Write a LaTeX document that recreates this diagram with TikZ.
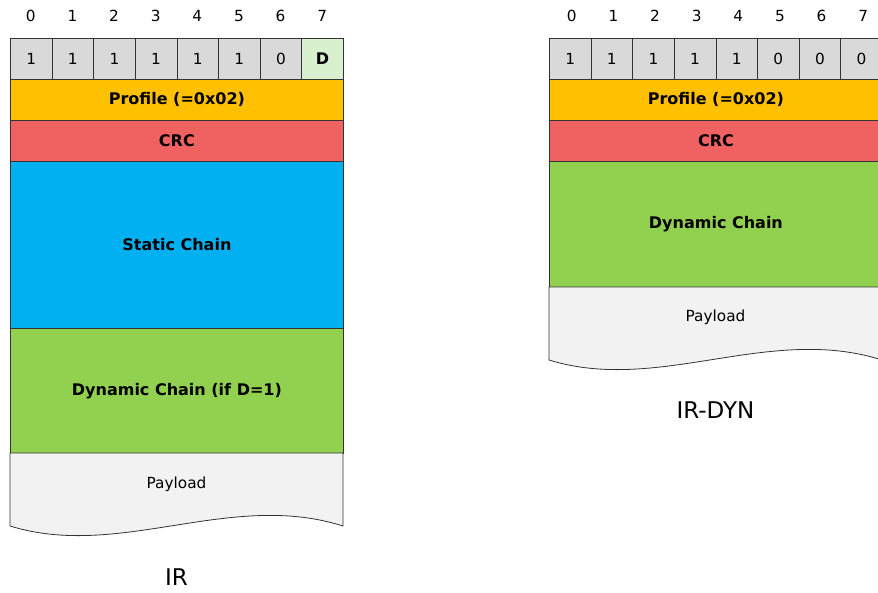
\documentclass[tikz,border=0pt]{standalone}
\usepackage{fontspec}
\setmainfont{DejaVu Sans}
\begin{document}
\begin{tikzpicture}[x=1pt,y=-1pt,
  cellbox/.style={draw=black!80,line width=0.8pt,anchor=north west,minimum width=41.625pt,minimum height=41pt,inner sep=0pt,font=\fontsize{15.3}{17}\selectfont},
  bandbox/.style={draw=black!80,line width=0.8pt,anchor=north west,minimum width=333pt,inner sep=0pt,font=\fontsize{16}{18}\selectfont\bfseries},
  bitlbl/.style={font=\fontsize{15.3}{17}\selectfont},
  caption/.style={font=\fontsize{23}{26}\selectfont},
  payfill/.style={fill=black!5,draw=black!80,line width=0.8pt}
]
\useasboundingbox (0,0) rectangle (878,592);
\definecolor{cgray}{HTML}{D9D9D9}
\definecolor{cdgreen}{HTML}{D8F0CE}
\definecolor{corange}{HTML}{FFC000}
\definecolor{cred}{HTML}{F06262}
\definecolor{cblue}{HTML}{00B0F0}
\definecolor{cgreen}{HTML}{92D050}

% ---------- IR ----------
\foreach \i/\v in {0/1,1/1,2/1,3/1,4/1,5/1,6/0}{
  \node[bitlbl] (lb\i) at ({30.8+41.625*\i},16) {\i};
  \node[cellbox,fill=cgray] (lc\i) at ({10+41.625*\i},38) {\v};
}
\node[bitlbl] (lb7) at ({30.8+41.625*7},16) {7};
\node[cellbox,fill=cdgreen,font=\fontsize{16}{18}\selectfont\bfseries] (lc7) at ({10+41.625*7},38) {D};
\node[bandbox,fill=corange,minimum height=41pt] (lprof) at (10,79) {Profile (=0x02)};
\node[bandbox,fill=cred,minimum height=41pt] (lcrc) at (10,120) {CRC};
\node[bandbox,fill=cblue,minimum height=167pt] (lstat) at (10,161) {Static Chain};
\node[bandbox,fill=cgreen,minimum height=125pt] (ldyn) at (10,328) {Dynamic Chain (if D=1)};
\draw[payfill] (10,453) -- (343,453) -- (343,526) .. controls (230,490) and (120,560) .. (10,526) -- cycle;
\node[font=\fontsize{15.3}{17}\selectfont] (lpay) at (176.5,484) {Payload};
\node[caption] (lcap) at (176.5,577) {IR};

% ---------- IR-DYN ----------
\foreach \i/\v in {0/1,1/1,2/1,3/1,4/1,5/0,6/0,7/0}{
  \node[bitlbl] (rb\i) at ({571.8+41.625*\i},16) {\i};
  \node[cellbox,fill=cgray] (rc\i) at ({549+41.625*\i},38) {\v};
}
\node[bandbox,fill=corange,minimum height=41pt] (rprof) at (549,79) {Profile (=0x02)};
\node[bandbox,fill=cred,minimum height=41pt] (rcrc) at (549,120) {CRC};
\node[bandbox,fill=cgreen,minimum height=126pt] (rdyn) at (549,161) {Dynamic Chain};
\draw[payfill] (549,287) -- (882,287) -- (882,360) .. controls (769,324) and (659,394) .. (549,360) -- cycle;
\node[font=\fontsize{15.3}{17}\selectfont] (rpay) at (715.5,317) {Payload};
\node[caption] (rcap) at (715.5,410) {IR-DYN};
\end{tikzpicture}
\end{document}
